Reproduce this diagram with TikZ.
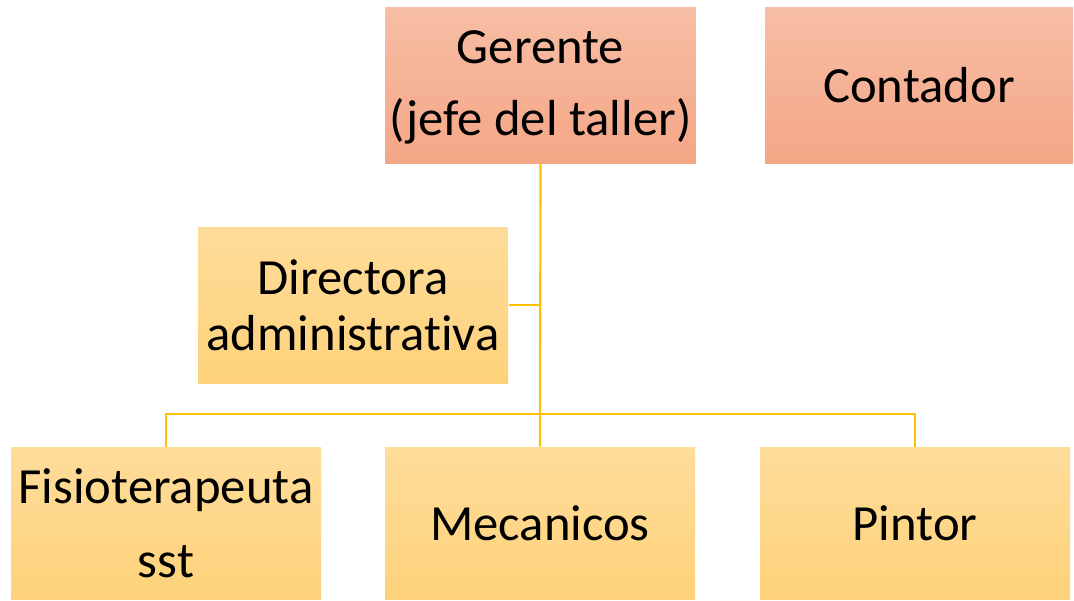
\documentclass[tikz,border=0pt]{standalone}
\usepackage{fontspec}
\setmainfont{Carlito}[Ligatures=NoCommon]
\definecolor{salmonTop}{RGB}{247,190,165}
\definecolor{salmonBot}{RGB}{244,166,134}
\definecolor{goldTop}{RGB}{254,220,154}
\definecolor{goldBot}{RGB}{254,210,122}
\definecolor{linkGold}{RGB}{255,192,0}
\tikzset{every picture/.style={line width=0.75pt}}
\tikzset{
  boxRed/.style={rectangle, inner sep=0pt, align=center, top color=salmonTop, bottom color=salmonBot, minimum width=233pt, minimum height=117pt, font=\fontsize{38}{42}\selectfont},
  boxGold/.style={rectangle, inner sep=0pt, align=center, top color=goldTop, bottom color=goldBot, minimum width=232.5pt, minimum height=114pt, font=\fontsize{38}{42}\selectfont},
  link/.style={draw=linkGold, line width=1.6pt}
}
\begin{document}
\begin{tikzpicture}[x=0.75pt,y=0.75pt,yscale=-1,xscale=1]
%set diagram left start at 0, and has height of 600
\useasboundingbox (0,0) rectangle (1074,600);

%Shape: Rectangle [id:gerente]
\node [boxRed, text depth=3pt] (gerente) at (540.5,85) {Gerente\\[12pt](jefe del taller)};
%Shape: Rectangle [id:contador]
\node [boxRed, minimum width=231pt] (contador) at (919,85) {Contador};
%Shape: Rectangle [id:directora]
\node [boxGold, minimum height=117pt] (directora) at (353,305) {Directora\\administrativa};
%Shape: Rectangle [id:fisio]
\node [boxGold] (fisio) at (166,523) {Fisioterapeuta\\[13.5pt]sst};
%Shape: Rectangle [id:mecanicos]
\node [boxGold] (mecanicos) at (540,523) {Mecanicos};
%Shape: Rectangle [id:pintor]
\node [boxGold] (pintor) at (915,523) {Pintor};

\coordinate (bus) at (540,414);

%Straight Lines
\draw [link] (gerente.south) -- (mecanicos.north);
%Straight Lines
\draw [link] (directora.east) -- (directora.east -| gerente.south);
%Straight Lines
\draw [link] (fisio.north) |- (bus) -| (pintor.north);

\end{tikzpicture}
\end{document}
